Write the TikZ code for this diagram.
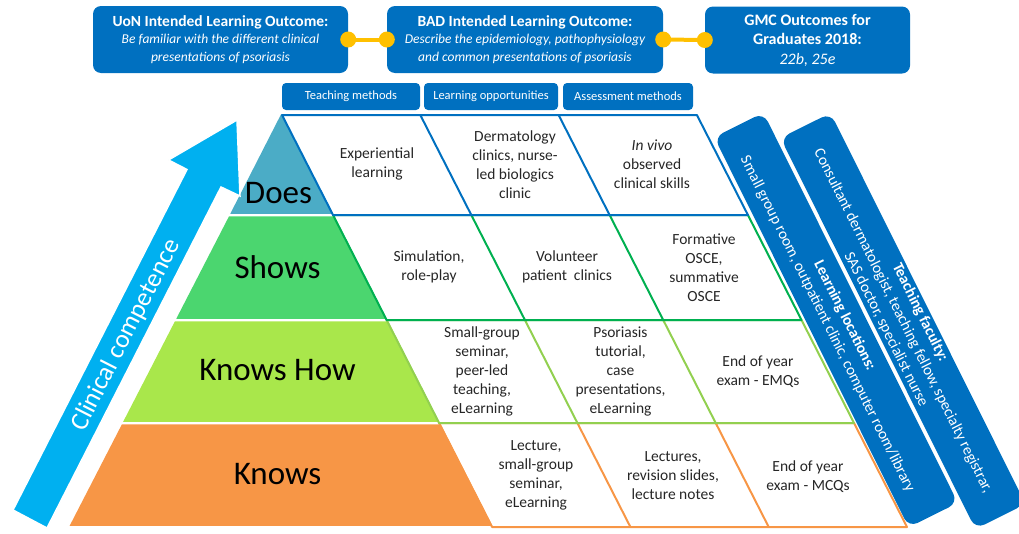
\documentclass[tikz,border=0pt]{standalone}
\usepackage{fontspec}
\setmainfont{Carlito}

\definecolor{uonblue}{HTML}{0070C0}
\definecolor{arrowblue}{HTML}{00B0F0}
\definecolor{gold}{HTML}{FFC000}
\definecolor{doesfill}{HTML}{4BACC6}
\definecolor{showsfill}{HTML}{4BD66F}
\definecolor{howfill}{HTML}{A9E74B}
\definecolor{knowsfill}{HTML}{F79646}
\definecolor{showsline}{HTML}{00B050}
\definecolor{howline}{HTML}{92D050}

\newcommand{\boxtitle}{\fontsize{15.5}{17.5}\selectfont\bfseries}
\newcommand{\boxbody}{\fontsize{13.5}{17.5}\selectfont\mdseries\itshape}

\begin{document}
\begin{tikzpicture}[x=1pt, y=-1pt,
    topbox/.style={fill=uonblue, rounded corners=8pt, text=white, align=center, minimum height=67pt, inner sep=0pt, font=\fontsize{15.5}{17.5}\selectfont},
    headbox/.style={fill=uonblue, rounded corners=4pt, text=white, minimum height=27pt, inner sep=0pt, font=\fontsize{12.5}{14}\selectfont},
    link/.style={gold, line width=4pt},
    level/.style={font=\fontsize{33}{36}\selectfont, text=black},
    cell/.style={align=center, text=black!85, font=\fontsize{15.5}{19}\selectfont},
    sidebar/.style={fill=uonblue, rounded corners=10pt, text=white, align=center, rotate=-63.5, inner sep=0pt, font=\fontsize{15.5}{19}\selectfont},
    band/.style={draw=white, line width=1.5pt},
    gridline/.style={line width=2pt, line join=round}]
\useasboundingbox (0,0) rectangle (1019,533);

% Outcome boxes
\node[topbox, minimum width=255pt] (uon) at (220.5,39.5) {\boxtitle UoN Intended Learning Outcome:\\ \boxbody Be familiar with the different clinical\\ \boxbody presentations of psoriasis};
\node[topbox, minimum width=276pt] (bad) at (525,39.5) {\boxtitle BAD Intended Learning Outcome:\\ \boxbody Describe the epidemiology, pathophysiology\\ \boxbody and common presentations of psoriasis};
\node[topbox, minimum width=205pt, font=\fontsize{16}{19.5}\selectfont] (gmc) at (807.5,40) {\bfseries GMC Outcomes for\\ \bfseries Graduates 2018:\\ \itshape 22b, 25e};
\draw[link] (uon.east) -- (bad.west);
\draw[link] (bad.east) -- (gmc.west);
\fill[gold] (uon.east) circle (8pt) (bad.west) circle (8pt);
\fill[gold] (bad.east) circle (8pt) (gmc.west) circle (8pt);

% Column headers
\node[headbox, minimum width=138pt] (teach) at (351,96.5) {Teaching methods};
\node[headbox, minimum width=134pt] (opps) at (491,96.5) {Learning opportunities};
\node[headbox, minimum width=130pt] (assess) at (628,96.5) {Assessment methods};

% Pyramid
\fill[band, doesfill] (281,116) -- (332,213) -- (231.5,213) -- cycle;
\fill[band, showsfill] (229.5,217) -- (334,217) -- (385.5,318) -- (177.5,318) -- cycle;
\fill[band, howfill] (175.4,322) -- (387.6,322) -- (438,421) -- (124.4,421) -- cycle;
\fill[band, knowsfill] (122.4,425) -- (440.1,425) -- (491.1,525) -- (70.9,525) -- cycle;
\node[level] (does) at (278.5,193) {Does};
\node[level] (shows) at (277.5,267.5) {Shows};
\node[level] (knowshow) at (277.5,370) {Knows How};
\node[level] (knows) at (277.5,474) {Knows};

% Grid rows, bottom first
\draw[gridline, knowsfill] (439.1,423) -- (854,423) -- (907,527) -- (492.1,527) -- cycle
    (577.4,423) -- (630.4,527) (715.7,423) -- (768.7,527);
\draw[gridline, howline] (386.6,320) -- (801.5,320) -- (854,423) -- (439.1,423) -- cycle
    (524.9,320) -- (577.4,423) (663.2,320) -- (715.7,423);
\draw[gridline, showsline] (333,215) -- (747.9,215) -- (801.5,320) -- (386.6,320) -- cycle
    (471.3,215) -- (524.9,320) (609.6,215) -- (663.2,320);
\draw[gridline, uonblue] (282,115) -- (696.9,115) -- (747.9,215) -- (333,215) -- cycle
    (420.3,115) -- (471.3,215) (558.6,115) -- (609.6,215);

% Cells
\node[cell] (does1) at (377,163.5) {Experiential\\learning};
\node[cell] (does2) at (515,164.5) {Dermatology\\clinics, nurse-\\led biologics\\clinic};
\node[cell] (does3) at (652,164) {\textit{In vivo}\\observed\\clinical skills};
\node[cell] (shows1) at (429,267) {Simulation,\\role-play};
\node[cell] (shows2) at (567,267) {Volunteer\\patient\ \ clinics};
\node[cell] (shows3) at (704,267.5) {Formative\\OSCE,\\summative\\OSCE};
\node[cell] (how1) at (482,371) {Small-group\\seminar,\\peer-led\\teaching,\\eLearning};
\node[cell] (how2) at (620.5,371) {Psoriasis\\tutorial,\\case\\presentations,\\eLearning};
\node[cell] (how3) at (758,372) {End of year\\exam - EMQs};
\node[cell] (knows1) at (536,475) {Lecture,\\small-group\\seminar,\\eLearning};
\node[cell] (knows2) at (673,475.5) {Lectures,\\revision slides,\\lecture notes};
\node[cell] (knows3) at (808,477) {End of year\\exam - MCQs};

% Competence arrow
\draw[fill=arrowblue, draw=white, line width=1.5pt, line join=miter] (13,510) -- (47,528) -- (221,187) -- (240,196)
    -- (237,120) -- (168.5,160) -- (187,169.5) -- cycle;
\node[text=white, rotate=63, font=\fontsize{26}{30}\selectfont] (comp) at (126,335) {Clinical competence};

% Side bars
\node[sidebar, minimum width=436pt, minimum height=55pt] (locations) at (836,320) {\textbf{Learning locations:}\\Small group room, outpatient clinic, computer room/library};
\node[sidebar, minimum width=437pt, minimum height=56pt] (faculty) at (903,321) {\textbf{Teaching faculty:}\\Consultant dermatologist, teaching fellow, specialty registrar,\\SAS doctor, specialist nurse};
\end{tikzpicture}
\end{document}
